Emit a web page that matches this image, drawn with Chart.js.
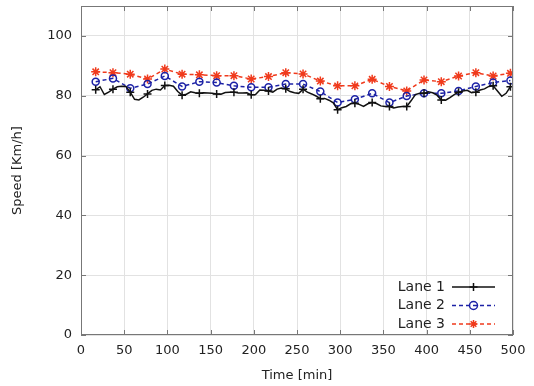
<!DOCTYPE html>
<html>
<head>
<meta charset="utf-8">
<script src="https://cdn.jsdelivr.net/npm/chart.js@4.4.1/dist/chart.umd.min.js"></script>
<style>
  html, body { margin: 0; padding: 0; background: #fff; }
  #wrap { width: 534px; height: 386px; position: relative; }
</style>
</head>
<body>
<div id="wrap"><canvas id="speed-chart"></canvas></div>
<script>
// Lane 1 sampled every 5 min, marker on every 4th sample
const lane1Time = [];
for (let t = 17; t <= 497; t += 5) lane1Time.push(t);
const lane1Speed = [
    82.0, 83.0, 80.4, 81.2, 82.2, 83.0, 83.2, 83.1, 81.2, 78.8,
    78.6, 79.5, 80.6, 81.8, 82.2, 81.9, 83.4, 83.5, 83.2, 81.4,
    80.2, 80.5, 81.3, 81.0, 80.8, 81.0, 80.9, 80.8, 80.6, 80.5,
    81.1, 81.2, 81.2, 80.9, 80.9, 81.0, 80.3, 80.4, 81.9, 81.8,
    81.6, 81.2, 82.2, 82.6, 82.3, 81.4, 81.0, 80.8, 82.2, 81.2,
    80.6, 79.9, 79.0, 79.1, 78.5, 77.6, 75.3, 76.0, 76.4, 77.3,
    77.5, 77.1, 76.4, 77.3, 77.7, 77.4, 76.6, 76.4, 76.4, 75.9,
    76.2, 76.4, 76.4, 78.3, 80.4, 80.8, 80.8, 81.3, 81.0, 80.2,
    78.6, 78.5, 79.4, 80.4, 81.2, 81.6, 81.8, 81.0, 81.2, 81.9,
    82.3, 83.1, 83.3, 81.6, 79.8, 80.8, 83.0
];

// Lanes 2 and 3 every 20 min
const laneTime = [17, 37, 57, 77, 97, 117, 137, 157, 177, 197, 217, 237, 257,
    277, 297, 317, 337, 357, 377, 397, 417, 437, 457, 477, 497];
const lane2Speed = [84.7, 85.8, 82.5, 83.9, 86.6, 83.1, 84.7, 84.4, 83.3, 82.8, 82.8, 83.9, 83.9,
    81.4, 77.7, 78.8, 80.8, 77.7, 79.9, 80.8, 80.8, 81.6, 83.1, 84.4, 85.1];
const lane3Speed = [88.0, 87.7, 87.2, 85.6, 88.9, 87.2, 87.0, 86.7, 86.7, 85.6, 86.4, 87.7, 87.3,
    84.9, 83.3, 83.3, 85.5, 83.1, 81.6, 85.3, 84.7, 86.6, 87.7, 86.6, 87.5];

const laneNames = ['Lane 1', 'Lane 2', 'Lane 3'];
const xTicks = [0, 50, 100, 150, 200, 250, 300, 350, 400, 450, 500];
const yTicks = [0, 20, 40, 60, 80, 100];

const FONT = 'DejaVu Sans, sans-serif';
const TEXT = '#222';

function toPoints(times, values) {
    return times.map((t, i) => ({ x: t, y: values[i] }));
}

// Frame, mirrored inward ticks
const framePlugin = {
    id: 'frame',
    afterDraw(chart) {
        const { ctx, chartArea: a, scales } = chart;
        ctx.save();
        ctx.strokeStyle = '#777';
        ctx.lineWidth = 1;
        ctx.strokeRect(a.left + 0.5, a.top + 0.5, a.right - a.left - 1, a.bottom - a.top - 1);
        ctx.beginPath();
        xTicks.forEach(v => {
            const x = Math.round(scales.x.getPixelForValue(v)) + 0.5;
            ctx.moveTo(x, a.bottom); ctx.lineTo(x, a.bottom - 5);
            ctx.moveTo(x, a.top); ctx.lineTo(x, a.top + 5);
        });
        yTicks.forEach(v => {
            const y = Math.round(scales.y.getPixelForValue(v)) + 0.5;
            ctx.moveTo(a.left, y); ctx.lineTo(a.left + 5, y);
            ctx.moveTo(a.right, y); ctx.lineTo(a.right - 5, y);
        });
        ctx.stroke();
        ctx.restore();
    }
};

// Gnuplot-style key: text on the left, sample on the right
const keyPlugin = {
    id: 'key',
    afterDraw(chart) {
        const { ctx } = chart;
        ctx.save();
        chart.data.datasets.forEach((ds, i) => {
            const y = 287 + i * 18.5;
            ctx.font = '14px ' + FONT;
            ctx.fillStyle = TEXT;
            ctx.textAlign = 'right';
            ctx.textBaseline = 'middle';
            ctx.fillText(ds.label, 445, y);
            ctx.strokeStyle = ds.borderColor;
            ctx.lineWidth = ds.borderWidth;
            ctx.setLineDash(ds.borderDash || []);
            ctx.beginPath();
            ctx.moveTo(452, y); ctx.lineTo(495, y);
            ctx.stroke();
            ctx.setLineDash([]);
            ctx.lineWidth = 1.5;
            ctx.fillStyle = ds.pointBackgroundColor;
            Chart.helpers.drawPoint(ctx, { pointStyle: ds.pointStyle, radius: 4, rotation: 0, borderWidth: 1.5 }, 473.5, y);
        });
        ctx.restore();
    }
};

const everyFourth = ctx => (ctx.dataIndex % 4 === 0 ? 4 : 0);

new Chart(document.getElementById('speed-chart'), {
    type: 'line',
    data: {
        datasets: [{
            label: laneNames[0],
            data: toPoints(lane1Time, lane1Speed),
            borderColor: '#111',
            backgroundColor: '#111',
            pointBackgroundColor: '#111',
            borderWidth: 1.5,
            pointStyle: 'cross',
            pointRadius: everyFourth,
            pointBorderWidth: 1.5,
            tension: 0
        }, {
            label: laneNames[1],
            data: toPoints(laneTime, lane2Speed),
            borderColor: '#1c22a6',
            backgroundColor: '#1c22a6',
            pointBackgroundColor: 'rgba(0,0,0,0)',
            borderWidth: 1.5,
            borderDash: [4, 3],
            pointStyle: 'circle',
            pointRadius: 3.5,
            pointBorderWidth: 1.5,
            tension: 0
        }, {
            label: laneNames[2],
            data: toPoints(laneTime, lane3Speed),
            borderColor: '#f03a1c',
            backgroundColor: '#f03a1c',
            pointBackgroundColor: '#f03a1c',
            borderWidth: 1.5,
            borderDash: [4, 3],
            pointStyle: 'star',
            pointRadius: 4.5,
            pointBorderWidth: 1.5,
            tension: 0
        }]
    },
    options: {
        responsive: true,
        maintainAspectRatio: false,
        animation: false,
        layout: { padding: { left: 0, right: 21, top: 6, bottom: 0 } },
        plugins: { legend: { display: false }, tooltip: { enabled: false } },
        scales: {
            x: {
                type: 'linear',
                min: 0, max: 500,
                afterBuildTicks: s => { s.ticks = xTicks.map(v => ({ value: v })); },
                afterFit: s => { s.height = 51; s.paddingLeft = 0; s.paddingRight = 0; },
                grid: { color: '#e2e2e2', borderDash: [1, 2], drawTicks: false },
                border: { display: false },
                ticks: { color: TEXT, font: { family: FONT, size: 13 }, padding: 8, maxRotation: 0 },
                title: { display: true, text: 'Time [min]', color: TEXT, font: { family: FONT, size: 13 }, padding: { top: 0, bottom: 3 } }
            },
            y: {
                min: 0, max: 110,
                afterBuildTicks: s => { s.ticks = yTicks.map(v => ({ value: v })); },
                afterFit: s => { s.width = 81; s.paddingTop = 0; s.paddingBottom = 0; },
                grid: { color: '#e2e2e2', borderDash: [1, 2], drawTicks: false },
                border: { display: false },
                ticks: { color: TEXT, font: { family: FONT, size: 13 }, padding: 9 },
                title: { display: true, text: 'Speed [Km/h]', color: TEXT, font: { family: FONT, size: 13 }, padding: { top: 10, bottom: 0 } }
            }
        }
    },
    plugins: [framePlugin, keyPlugin]
});
</script>
</body>
</html>
